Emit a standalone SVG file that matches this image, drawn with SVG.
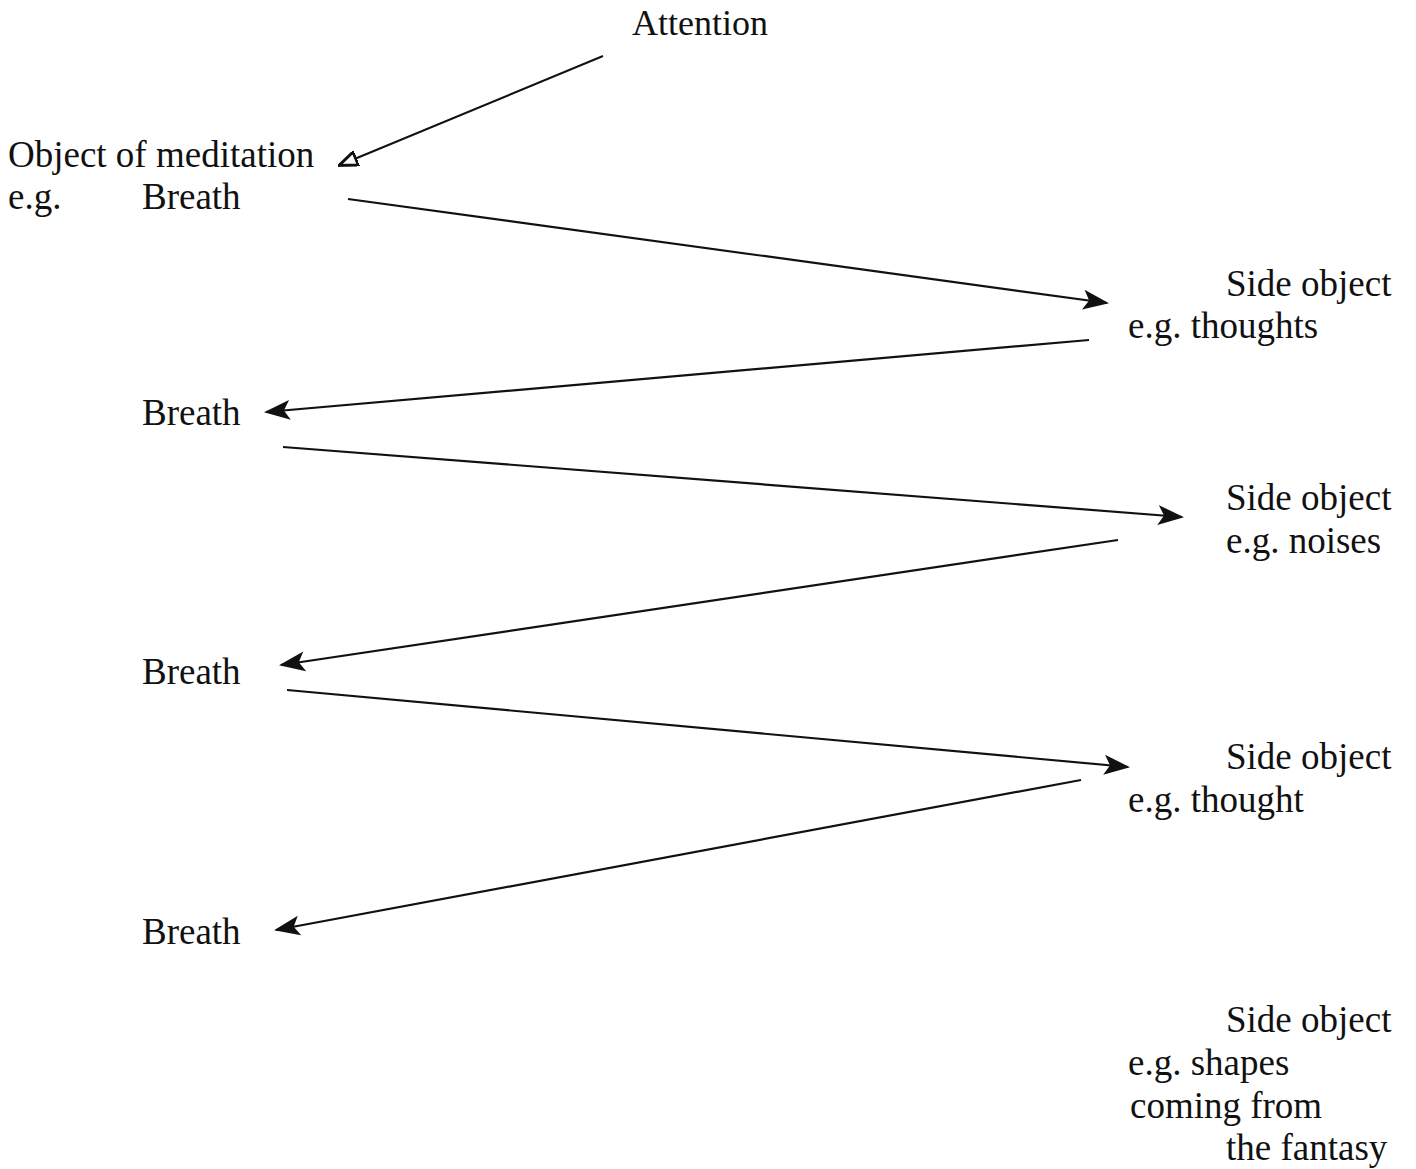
<svg xmlns="http://www.w3.org/2000/svg" width="1416" height="1169" viewBox="0 0 1416 1169">
<style>
text{font-family:"Liberation Serif","Times New Roman",serif;font-size:37px;fill:#111}
.c{stroke:#111;stroke-width:2.2;fill:none;marker-end:url(#ah)}
.c2{stroke:#111;stroke-width:2;fill:none;marker-end:url(#ah2)}
</style>
<defs>
<marker id="ah" viewBox="0 0 26 22" refX="24" refY="11" markerWidth="26" markerHeight="22" markerUnits="userSpaceOnUse" orient="auto">
<path d="M0,1 L26,11 L0,21 L6,11 Z" fill="#111"/>
</marker>
<marker id="ah2" viewBox="0 0 20 16" refX="18" refY="8" markerWidth="20" markerHeight="16" markerUnits="userSpaceOnUse" orient="auto">
<path d="M1,1 L19,8 L1,15 Z" fill="#fff" stroke="#111" stroke-width="3"/>
</marker>
</defs>
<rect width="1416" height="1169" fill="#fff"/>
<g id="attention"><text x="632" y="35" style="font-size:36px">Attention</text></g>
<g id="object"><text x="8" y="167">Object of meditation</text><text x="8" y="209">e.g.</text><text x="142" y="209">Breath</text></g>
<g id="side1"><text x="1226" y="296">Side object</text><text x="1128" y="338">e.g. thoughts</text></g>
<g id="breath2"><text x="142" y="425">Breath</text></g>
<g id="side2"><text x="1226" y="510">Side object</text><text x="1226" y="553">e.g. noises</text></g>
<g id="breath3"><text x="142" y="684">Breath</text></g>
<g id="side3"><text x="1226" y="769">Side object</text><text x="1128" y="812">e.g. thought</text></g>
<g id="breath4"><text x="142" y="944">Breath</text></g>
<g id="side4"><text x="1226" y="1032">Side object</text><text x="1128" y="1075">e.g. shapes</text><text x="1130" y="1118">coming from</text><text x="1226" y="1160">the fantasy</text></g>
<g id="connectors">
<path class="c2" d="M603,56 L340,165"/>
<path class="c" d="M348,199 L1107,303"/>
<path class="c" d="M1089,340 L266,412"/>
<path class="c" d="M283,447 L1182,517"/>
<path class="c" d="M1118,540 L281,665"/>
<path class="c" d="M287,690 L1128,767"/>
<path class="c" d="M1081,780 L276,930"/>
</g>
</svg>
